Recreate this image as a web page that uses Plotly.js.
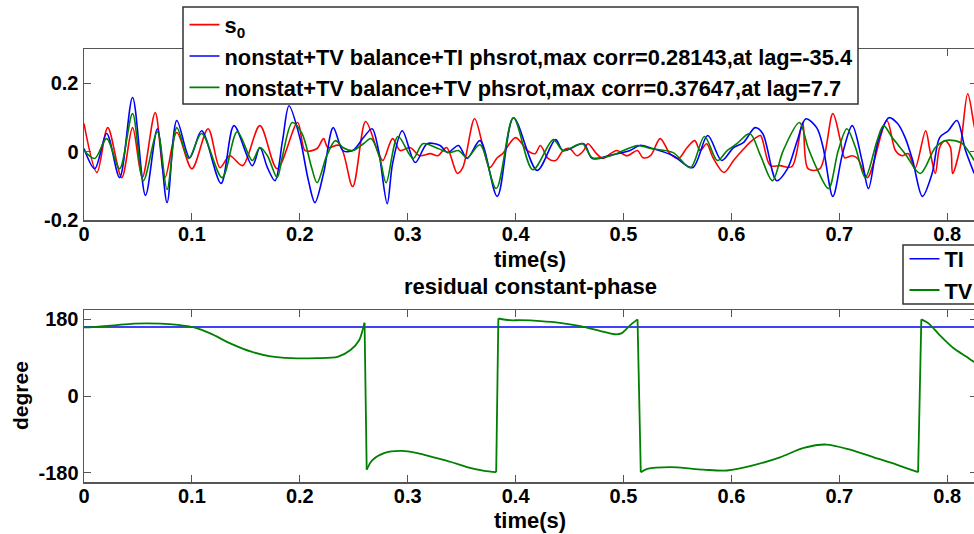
<!DOCTYPE html>
<html>
<head>
<meta charset="utf-8">
<script src="https://cdn.plot.ly/plotly-3.0.1.min.js"></script>
<style>
html,body{margin:0;padding:0;overflow:hidden;background:#fff;}
#chart{width:980px;height:534px;}
</style>
</head>
<body>
<div id="chart"></div>
<script>
// ---- top panel: signals (time in s, amplitude) ----
const tRed = [0.000,0.012,0.022,0.035,0.045,0.054,0.066,0.075,0.086,0.100,0.115,0.126,0.135,0.147,0.163,0.179,0.198,0.205,0.216,0.222,0.226,0.237,0.249,0.261,0.272,0.277,0.286,0.293,0.302,0.311,0.321,0.328,0.336,0.346,0.351,0.362,0.370,0.376,0.383,0.388,0.400,0.411,0.418,0.423,0.430,0.437,0.444,0.450,0.457,0.463,0.467,0.475,0.481,0.488,0.494,0.503,0.513,0.518,0.525,0.534,0.543,0.551,0.559,0.566,0.571,0.577,0.583,0.593,0.602,0.610,0.619,0.627,0.629,0.636,0.645,0.656,0.666,0.671,0.682,0.694,0.701,0.705,0.712,0.717,0.726,0.744,0.752,0.758,0.764,0.770,0.780,0.784,0.789,0.793,0.798,0.803,0.805,0.812,0.819,0.825,0.830];
const vRed = [0.082,-0.061,0.070,-0.076,0.070,-0.076,0.114,-0.076,0.056,-0.050,0.067,-0.047,-0.012,-0.041,0.076,-0.050,0.085,0.003,0.009,0.038,0.012,0.018,-0.102,0.088,0.003,-0.026,0.038,0.003,0.012,-0.012,-0.006,-0.012,0.012,-0.064,-0.047,0.096,0.012,-0.047,-0.018,-0.006,0.041,0.003,-0.006,0.018,-0.020,-0.026,0.003,0.009,-0.012,0.003,0.023,-0.006,-0.020,-0.006,0.003,-0.012,0.003,-0.018,-0.012,0.038,-0.006,-0.020,0.012,0.032,0.003,0.023,-0.018,-0.061,-0.026,0.003,0.032,0.047,0.032,-0.041,-0.041,-0.044,0.085,-0.050,-0.050,0.111,0.032,-0.018,-0.012,-0.020,-0.076,0.091,0.003,-0.012,-0.006,-0.050,0.061,0.003,-0.064,0.012,0.032,0.012,-0.064,0.012,0.169,0.076,0.003];

const tBlue = [0.000,0.010,0.021,0.033,0.045,0.057,0.068,0.077,0.086,0.098,0.109,0.127,0.139,0.156,0.163,0.170,0.177,0.184,0.190,0.200,0.208,0.214,0.222,0.231,0.240,0.249,0.259,0.267,0.273,0.281,0.286,0.295,0.307,0.318,0.330,0.337,0.347,0.355,0.367,0.383,0.398,0.420,0.437,0.444,0.463,0.471,0.490,0.506,0.515,0.527,0.546,0.564,0.578,0.591,0.602,0.611,0.622,0.629,0.642,0.652,0.661,0.669,0.679,0.685,0.694,0.703,0.712,0.721,0.727,0.736,0.746,0.754,0.761,0.768,0.777,0.786,0.793,0.801,0.809,0.817,0.825];
const vBlue = [0.009,-0.050,0.053,-0.076,0.158,-0.128,0.067,-0.149,0.091,-0.018,0.061,-0.093,0.076,-0.041,0.012,-0.047,-0.085,0.032,0.134,0.041,-0.085,-0.149,-0.064,0.070,0.003,0.003,0.041,0.067,0.003,-0.152,-0.035,0.061,-0.032,0.023,0.018,-0.003,0.018,-0.020,0.032,-0.131,0.099,-0.055,0.035,0.003,0.023,-0.020,-0.009,0.003,0.018,0.009,-0.012,-0.047,0.047,-0.026,0.012,0.026,0.070,0.053,-0.085,-0.050,0.032,0.096,0.070,0.012,-0.131,-0.006,0.076,-0.026,-0.108,0.032,0.099,0.082,0.041,-0.026,-0.131,-0.064,0.041,0.061,0.091,0.003,-0.064];

const tGreen = [0.000,0.010,0.021,0.033,0.045,0.055,0.068,0.077,0.086,0.097,0.109,0.128,0.142,0.156,0.163,0.170,0.179,0.184,0.193,0.202,0.211,0.216,0.225,0.233,0.240,0.249,0.259,0.266,0.274,0.280,0.291,0.305,0.314,0.328,0.339,0.347,0.355,0.367,0.382,0.398,0.416,0.435,0.444,0.462,0.471,0.488,0.500,0.513,0.525,0.546,0.562,0.575,0.587,0.596,0.605,0.617,0.627,0.638,0.648,0.663,0.671,0.680,0.690,0.699,0.707,0.715,0.724,0.735,0.741,0.749,0.761,0.775,0.789,0.798,0.807,0.814,0.825];
const vGreen = [0.003,-0.020,0.038,-0.050,0.111,-0.085,0.058,-0.111,0.070,-0.020,0.053,-0.076,0.058,-0.026,0.012,-0.012,-0.076,-0.012,0.085,0.053,-0.047,-0.091,-0.012,0.032,0.012,0.003,0.023,0.038,-0.018,-0.091,0.044,-0.020,0.023,0.009,-0.003,0.003,-0.018,0.020,-0.108,0.099,-0.053,0.035,0.003,0.023,-0.018,-0.012,0.003,0.018,0.009,-0.003,-0.047,0.044,-0.026,0.003,0.023,0.053,-0.012,-0.085,0.003,0.085,0.012,-0.055,-0.108,0.003,0.067,0.012,-0.076,0.032,0.076,0.041,-0.006,-0.064,0.012,0.032,0.032,0.023,-0.026];

// ---- bottom panel: residual constant-phase (degree) ----
const tTI = [0.000,0.830];
const vTI = [162,162];
const tTV = [0.000,0.008,0.028,0.046,0.071,0.087,0.102,0.117,0.136,0.155,0.173,0.192,0.216,0.235,0.247,0.255,0.259,0.260,
             0.262,0.267,0.278,0.294,0.309,0.324,0.340,0.355,0.371,0.382,
             0.384,0.395,0.404,0.423,0.441,0.460,0.478,0.492,0.498,0.506,0.513,
             0.516,0.522,0.543,0.574,0.596,0.620,0.645,0.667,0.688,0.710,0.732,0.753,0.773,
             0.776,0.783,0.793,0.806,0.818,0.825,0.830];
const vTV = [161,162,166,170,170,167,161,147,123,104,93,89,89,92,108,131,162,172,
             -173,-151,-134,-129,-134,-144,-155,-167,-176,-179,
             182,178,178,176,172,164,153,145,147,166,180,
             -179,-171,-167,-173,-175,-163,-144,-122,-114,-126,-144,-161,-179,
             180,170,143,112,92,80,76];

// ---- ticks ----
const xTickVals = [0,0.1,0.2,0.3,0.4,0.5,0.6,0.7,0.8];
const xTickText = ['0','0.1','0.2','0.3','0.4','0.5','0.6','0.7','0.8'];
const y1TickVals = [-0.2,0,0.2];
const y1TickText = ['-0.2','0','0.2'];
const y2TickVals = [-180,0,180];
const y2TickText = ['-180','0','180'];

const FONT = 'Liberation Sans, Arial, Helvetica, sans-serif';
const W = 980, H = 534;
const GREEN = '#008000', BLUE = '#0000ff', RED = '#ff0000';

const traces = [
  {x:tRed, y:vRed, type:'scatter', mode:'lines', name:'s<sub>0</sub>', line:{color:RED, width:1.6, shape:'spline', smoothing:0.9}, xaxis:'x', yaxis:'y', legend:'legend'},
  {x:tBlue, y:vBlue, type:'scatter', mode:'lines', name:'nonstat+TV balance+TI phsrot,max corr=0.28143,at lag=-35.4', line:{color:BLUE, width:1.6, shape:'spline', smoothing:0.9}, xaxis:'x', yaxis:'y', legend:'legend'},
  {x:tGreen, y:vGreen, type:'scatter', mode:'lines', name:'nonstat+TV balance+TV phsrot,max corr=0.37647,at lag=7.7', line:{color:GREEN, width:1.6, shape:'spline', smoothing:0.9}, xaxis:'x', yaxis:'y', legend:'legend'},
  {x:tTI, y:vTI, type:'scatter', mode:'lines', name:'TI', line:{color:BLUE, width:1.5}, xaxis:'x2', yaxis:'y2', legend:'legend2'}
];

// split the wrapped phase into continuous pieces (smooth) plus the vertical wrap jumps
(function(){
  let start = 0, first = true;
  const pieces = [];
  for (let i = 1; i <= tTV.length; i++) {
    if (i === tTV.length || Math.abs(vTV[i] - vTV[i-1]) > 180) {
      pieces.push([start, i]);
      start = i;
    }
  }
  pieces.forEach(function(p, k){
    traces.push({x:tTV.slice(p[0], p[1]), y:vTV.slice(p[0], p[1]), type:'scatter', mode:'lines',
      name:'TV', legendgroup:'TV', showlegend:first, line:{color:GREEN, width:1.8, shape:'spline', smoothing:0.8},
      xaxis:'x2', yaxis:'y2', legend:'legend2'});
    first = false;
    if (k < pieces.length - 1) {
      const a = p[1] - 1, b = p[1];
      traces.push({x:[tTV[a], tTV[b]], y:[vTV[a], vTV[b]], type:'scatter', mode:'lines',
        name:'TV', legendgroup:'TV', showlegend:false, line:{color:GREEN, width:1.8},
        xaxis:'x2', yaxis:'y2', legend:'legend2'});
    }
  });
})();

const tickFont = {family:FONT, size:20, color:'#000', weight:'bold'};
function xax(anchor){
  return {domain:[84/W, 977/W], range:[0,0.8276], anchor:anchor,
    tickmode:'array', tickvals:xTickVals, ticktext:xTickText,
    ticks:'inside', ticklen:7, tickwidth:1, tickcolor:'#555',
    showline:true, linecolor:'#555', linewidth:1.5, mirror:'ticks',
    showgrid:false, zeroline:false, tickfont:tickFont, ticklabelstandoff:-5, fixedrange:true};
}
function yax(anchor, dom, rng, tv, tt){
  return {domain:dom, range:rng, anchor:anchor,
    tickmode:'array', tickvals:tv, ticktext:tt,
    ticks:'inside', ticklen:7, tickwidth:1, tickcolor:'#555',
    showline:true, linecolor:'#555', linewidth:1.5, mirror:'ticks',
    showgrid:false, zeroline:false, tickfont:tickFont, fixedrange:true};
}

const titleFont = {family:FONT, size:22, color:'#000', weight:'bold'};
const legFont = {family:FONT, size:21.8, color:'#000', weight:'bold'};
const layout = {
  width:W, height:H,
  margin:{l:0,r:0,t:0,b:0,pad:0},
  paper_bgcolor:'#fff', plot_bgcolor:'#fff',
  showlegend:true,
  xaxis:xax('y'),
  yaxis:yax('x',[1-220/H, 1-49/H],[-0.2,0.3],y1TickVals,y1TickText),
  xaxis2:xax('y2'),
  yaxis2:yax('x2',[1-482/H, 1-310/H],[-202,202],y2TickVals,y2TickText),
  legend:{x:184.5/W, y:1-4/H, xanchor:'left', yanchor:'top', bgcolor:'rgba(0,0,0,0)', borderwidth:0,
    font:legFont, tracegroupgap:0},
  legend2:{x:904.5/W, y:1-238/H, xanchor:'left', yanchor:'top', bgcolor:'rgba(0,0,0,0)', borderwidth:0,
    font:legFont, tracegroupgap:0},
  shapes:[
    {type:'rect', xref:'paper', yref:'paper', x0:183/W, x1:858/W, y0:1-104/H, y1:1-7/H, layer:'above',
      fillcolor:'#fff', line:{color:'#333', width:1.5}},
    {type:'rect', xref:'paper', yref:'paper', x0:903/W, x1:1000/W, y0:1-304/H, y1:1-245/H, layer:'above',
      fillcolor:'#fff', line:{color:'#333', width:1.5}}
  ],
  annotations:[
    {text:'time(s)', xref:'paper', yref:'paper', x:530/W, y:1-259/H, xanchor:'center', yanchor:'middle', showarrow:false, font:titleFont},
    {text:'residual constant-phase', xref:'paper', yref:'paper', x:530/W, y:1-286/H, xanchor:'center', yanchor:'middle', showarrow:false, font:titleFont},
    {text:'time(s)', xref:'paper', yref:'paper', x:530/W, y:1-520/H, xanchor:'center', yanchor:'middle', showarrow:false, font:titleFont},
    {text:'degree', xref:'paper', yref:'paper', x:20/W, y:1-396/H, xanchor:'center', yanchor:'middle', textangle:-90, showarrow:false, font:{family:FONT, size:21, color:'#000', weight:'bold'}}
  ]
};

Plotly.newPlot('chart', traces, layout, {displayModeBar:false, staticPlot:true});
</script>
</body>
</html>
